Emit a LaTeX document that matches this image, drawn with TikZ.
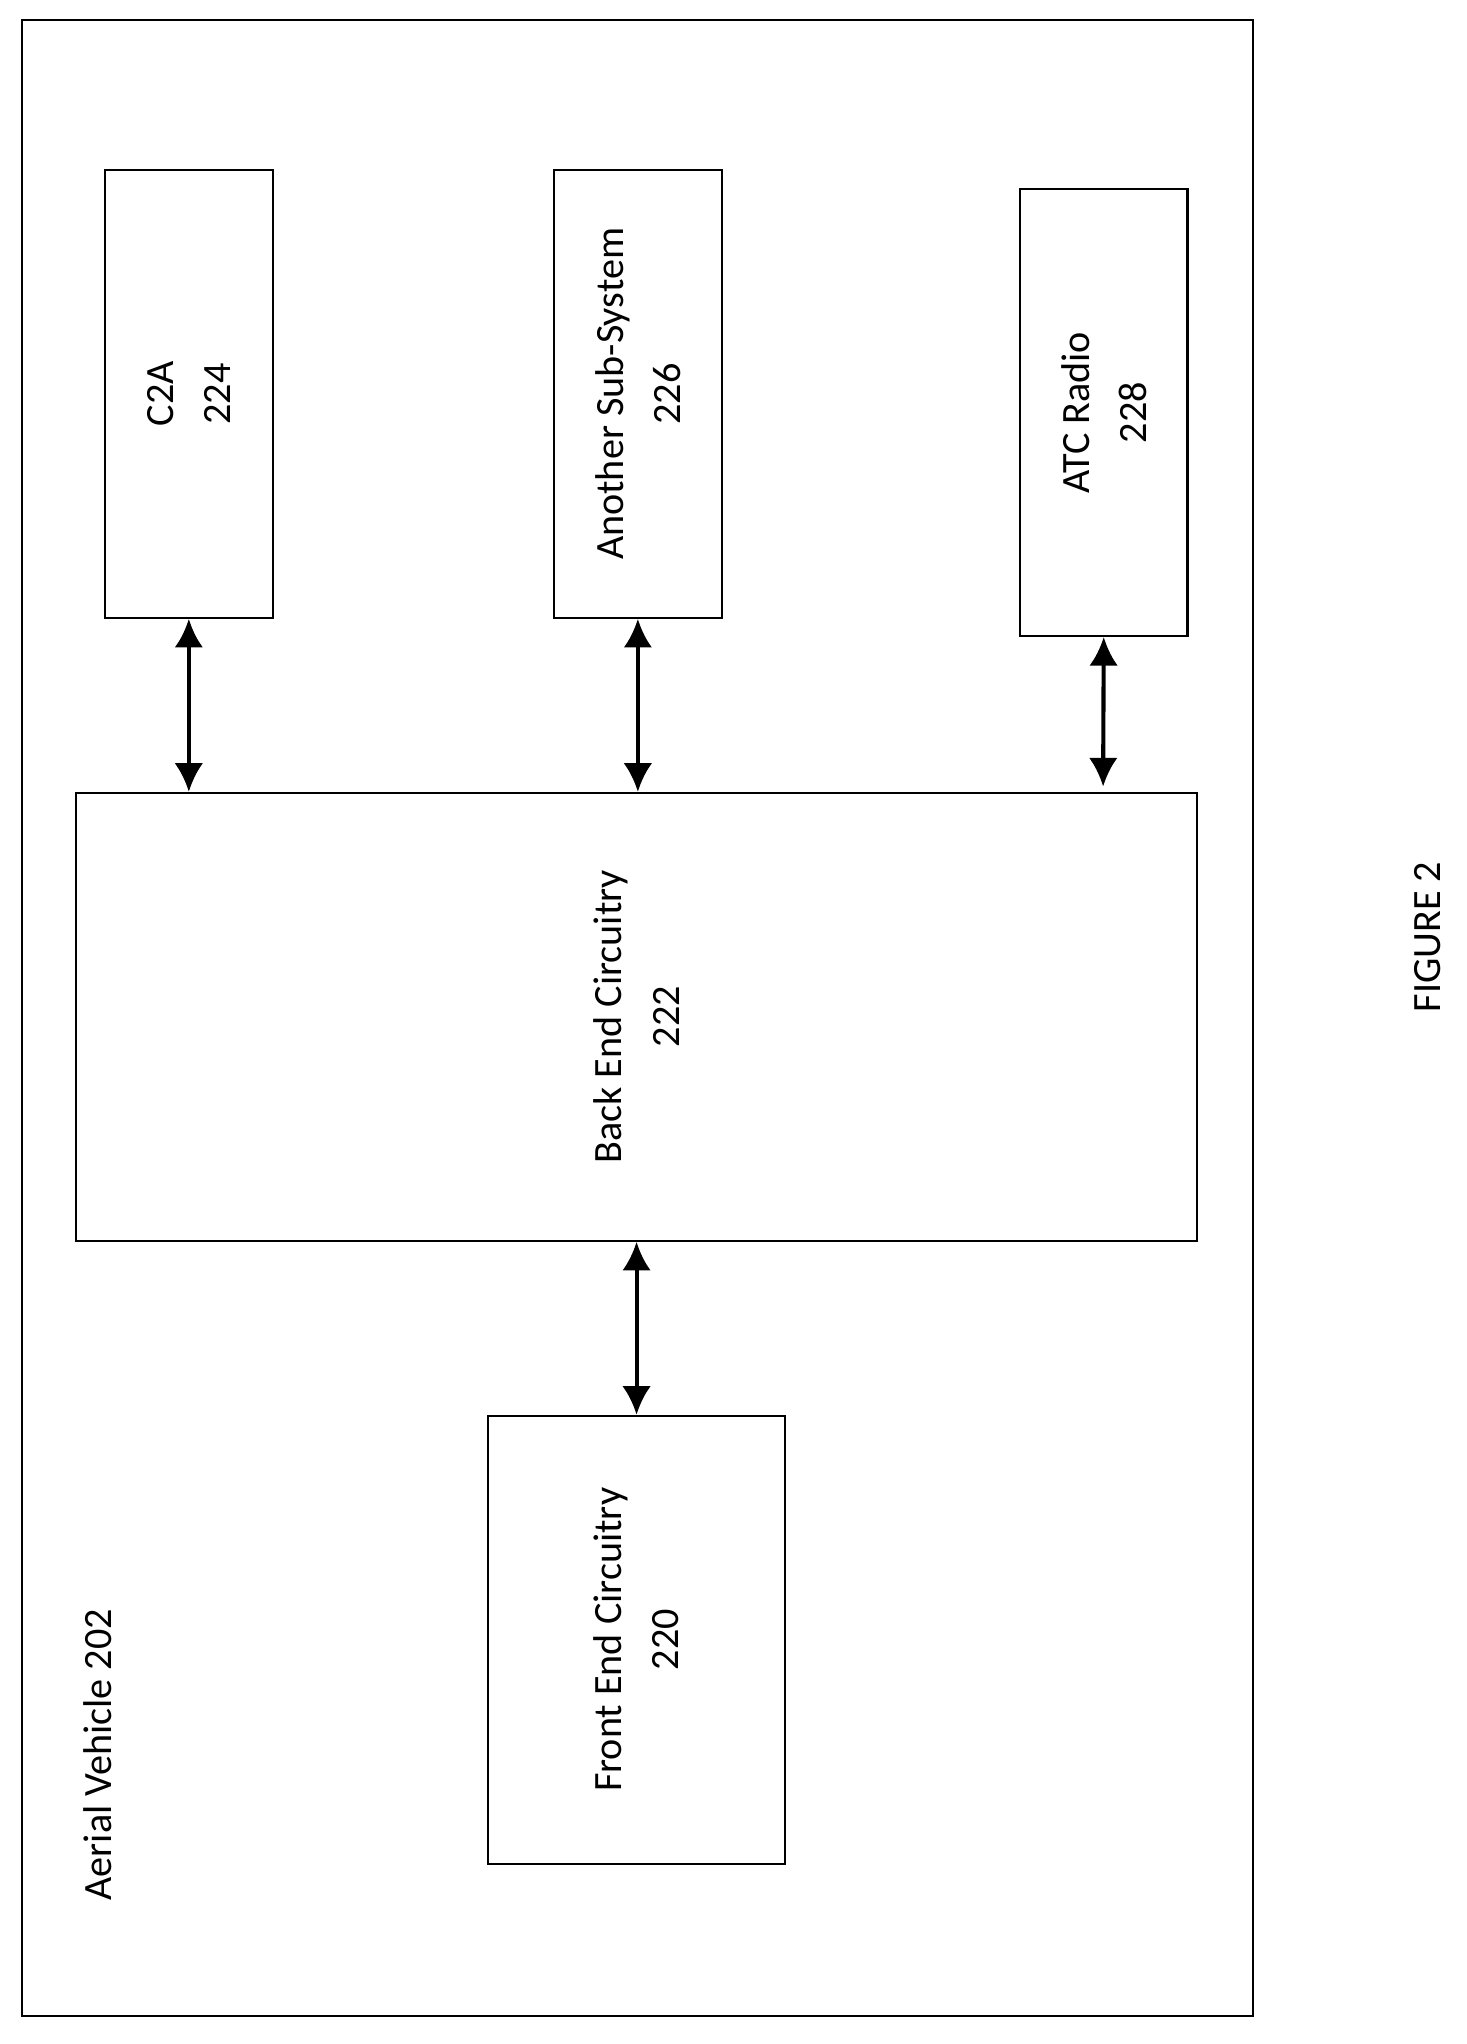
\documentclass[tikz,border=0pt]{standalone}
\usepackage{fontspec}
\setmainfont{Carlito}
\usetikzlibrary{arrows.meta}
\begin{document}
\begin{tikzpicture}[x=0.01cm,y=-0.01cm,
  box/.style={draw,line width=0.45pt,rotate=90,inner sep=0,align=center,font=\fontsize{8.8}{12.5}\selectfont},
  lbl/.style={rotate=90,inner sep=0,align=center,font=\fontsize{8.8}{12.5}\selectfont},
  arr/.style={line width=0.9pt,{Latex[length=0.22cm,width=0.22cm]}-{Latex[length=0.22cm,width=0.22cm]}}]
\useasboundingbox (0,0) rectangle (1130,1575);
\node[draw,line width=0.45pt,minimum width=9.48cm,minimum height=15.37cm,inner sep=0] (av) at (491,784.5) {};
\node[box,minimum width=3.45cm,minimum height=1.29cm] (c2a) at (145.5,303.5) {C2A\\224};
\node[box,minimum width=3.45cm,minimum height=1.29cm] (ass) at (491.5,303.5) {Another Sub-System\\226};
\node[box,minimum width=3.44cm,minimum height=1.29cm] (atc) at (850.5,318) {ATC Radio\\228};
\node[box,minimum width=3.45cm,minimum height=8.63cm] (be) at (490.5,783.5) {Back End Circuitry\\222};
\node[box,minimum width=3.45cm,minimum height=2.29cm] (fe) at (490.5,1263.5) {Front End Circuitry\\220};
\node[lbl] (avl) at (75,1352) {Aerial Vehicle 202};
\node[lbl] (fig) at (1100,722) {FIGURE 2};
\coordinate (a3) at (850,606);
\draw[arr] (c2a.west) -- (c2a.west |- be.east);
\draw[arr] (ass.west) -- (ass.west |- be.east);
\draw[arr] (atc.west) -- (a3);
\draw[arr] (be.west) -- (fe.east);
\end{tikzpicture}
\end{document}
